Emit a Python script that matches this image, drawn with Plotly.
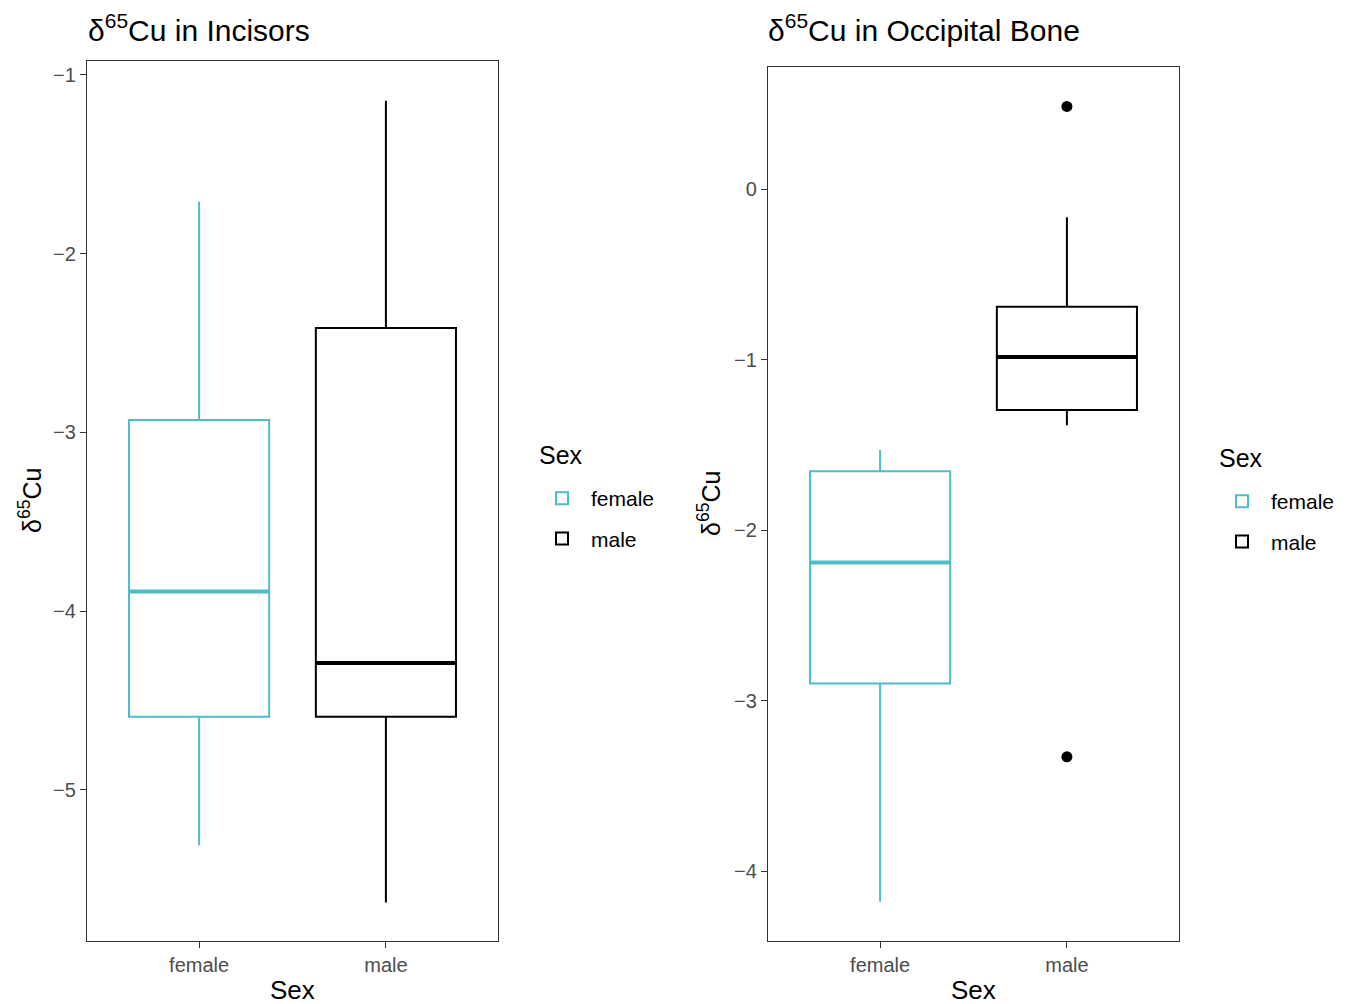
import plotly.graph_objects as go

W, H = 1347, 1004
OFF = 8  # page body margin offset

categories = ["female", "male"]
cat_pos = [1, 2]
colors = ["#4FBDC6", "#000000"]

# Incisors: per sex [lower whisker, q1, median, q3, upper whisker]
inc_low = [-5.31, -5.63]
inc_q1 = [-4.59, -4.59]
inc_med = [-3.89, -4.29]
inc_q3 = [-2.93, -2.415]
inc_high = [-1.71, -1.145]
inc_out = [[], []]

# Occipital bone
occ_low = [-4.18, -1.385]
occ_q1 = [-2.90, -1.295]
occ_med = [-2.19, -0.985]
occ_q3 = [-1.655, -0.69]
occ_high = [-1.53, -0.165]
occ_out = [[], [0.485, -3.33]]

yticks_inc = [-1, -2, -3, -4, -5]
yticks_occ = [0, -1, -2, -3, -4]

BOXW = 0.75
FONT = "Liberation Sans, Arial, sans-serif"

fig = go.Figure()

def add_panel(xa, ya, legend, low, q1, med, q3, high, outs):
    for i, cat in enumerate(categories):
        fig.add_trace(go.Box(
            x=[cat_pos[i]], q1=[q1[i]], median=[med[i]], q3=[q3[i]],
            lowerfence=[low[i]], upperfence=[high[i]],
            name=cat, width=BOXW, whiskerwidth=0,
            line=dict(color=colors[i], width=2),
            fillcolor="rgba(255,255,255,0)",
            boxpoints=False, xaxis=xa, yaxis=ya, legend=legend,
            legendgroup=legend + cat,
            showlegend=True, hoverinfo="skip",
        ))
        # thicker median line (ggplot style)
        fig.add_trace(go.Scatter(
            x=[cat_pos[i] - BOXW / 2, cat_pos[i] + BOXW / 2], y=[med[i], med[i]],
            mode="lines", line=dict(color=colors[i], width=4),
            xaxis=xa, yaxis=ya, showlegend=False, hoverinfo="skip",
        ))
        if outs[i]:
            fig.add_trace(go.Scatter(
                x=[cat_pos[i]] * len(outs[i]), y=outs[i], mode="markers",
                marker=dict(color=colors[i], size=11),
                xaxis=xa, yaxis=ya, showlegend=False, hoverinfo="skip",
            ))

add_panel("x", "y", "legend", inc_low, inc_q1, inc_med, inc_q3, inc_high, inc_out)
add_panel("x2", "y2", "legend2", occ_low, occ_q1, occ_med, occ_q3, occ_high, occ_out)

def px_x(p):
    return (p - OFF) / W

def px_y(p):
    return 1 - (p - OFF) / H

axis_common = dict(
    showline=True, mirror=True, linecolor="#333333", linewidth=1.2,
    ticks="outside", ticklen=6, tickcolor="#333333", tickwidth=1.2,
    showgrid=False, zeroline=False,
    tickfont=dict(family=FONT, size=20, color="#4D4D4D"),
)

legend_common = dict(
    xanchor="left", yanchor="top",
    font=dict(size=21), bgcolor="rgba(0,0,0,0)", tracegroupgap=10,
    traceorder="grouped", itemwidth=48,
)

fig.update_layout(
    width=W, height=H,
    margin=dict(l=0, r=0, t=0, b=0),
    paper_bgcolor="white", plot_bgcolor="white",
    font=dict(family=FONT, color="#000000"),
    xaxis=dict(domain=[px_x(87), px_x(498)], anchor="y", range=[0.4, 2.6],
               tickvals=cat_pos, ticktext=categories, **axis_common),
    yaxis=dict(domain=[px_y(941), px_y(61)], anchor="x", range=[-5.845, -0.922],
               tickvals=yticks_inc, ticktext=["\u2212" + str(abs(v)) for v in yticks_inc],
               **axis_common),
    xaxis2=dict(domain=[px_x(768), px_x(1179)], anchor="y2", range=[0.4, 2.6],
                tickvals=cat_pos, ticktext=categories, **axis_common),
    yaxis2=dict(domain=[px_y(941), px_y(67)], anchor="x2", range=[-4.41, 0.716],
                tickvals=yticks_occ,
                ticktext=[("\u2212" + str(abs(v))) if v < 0 else str(v) for v in yticks_occ],
                **axis_common),
    legend=dict(x=px_x(533), y=px_y(478), **legend_common),
    legend2=dict(x=px_x(1213), y=px_y(481), **legend_common),
    showlegend=True,
)

annots = [
    dict(text="\u03b4<sup>65</sup>Cu in Incisors", x=px_x(86), y=px_y(28), xanchor="left",
         yanchor="middle", font=dict(size=30)),
    dict(text="\u03b4<sup>65</sup>Cu in Occipital Bone", x=px_x(766), y=px_y(28), xanchor="left",
         yanchor="middle", font=dict(size=30)),
    dict(text="Sex", x=px_x(292), y=px_y(990), xanchor="center", yanchor="middle",
         font=dict(size=26)),
    dict(text="Sex", x=px_x(973), y=px_y(990), xanchor="center", yanchor="middle",
         font=dict(size=26)),
    dict(text="\u03b4<sup>65</sup>Cu", x=px_x(30), y=px_y(501), xanchor="center",
         yanchor="middle", textangle=-90, font=dict(size=25)),
    dict(text="\u03b4<sup>65</sup>Cu", x=px_x(709), y=px_y(504), xanchor="center",
         yanchor="middle", textangle=-90, font=dict(size=25)),
    dict(text="Sex", x=px_x(537), y=px_y(455), xanchor="left", yanchor="middle",
         font=dict(size=25)),
    dict(text="Sex", x=px_x(1217), y=px_y(458), xanchor="left", yanchor="middle",
         font=dict(size=25)),
]
for a in annots:
    a.update(xref="paper", yref="paper", showarrow=False)
fig.update_layout(annotations=annots)

fig.write_html("out.html")
